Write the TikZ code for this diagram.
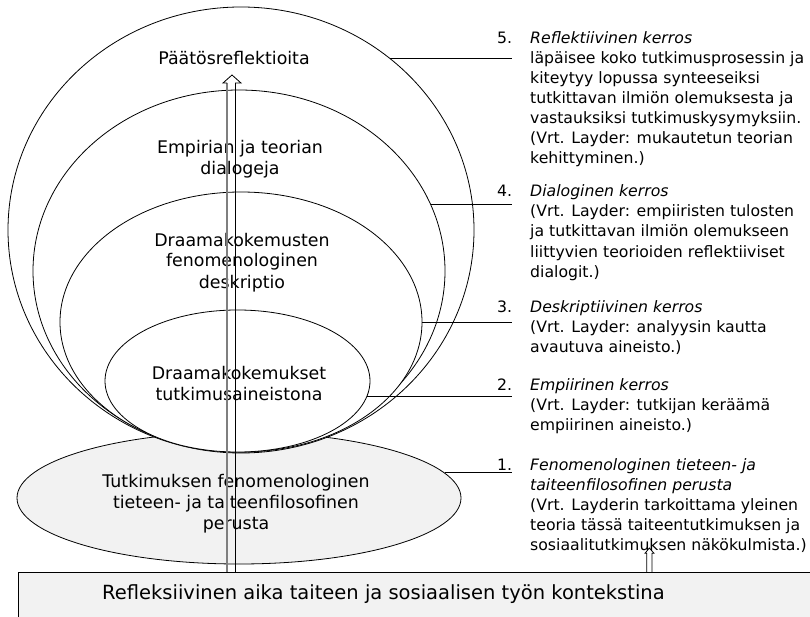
\documentclass[tikz,border=0pt]{standalone}
\usepackage{fontspec}
\setmainfont{DejaVu Sans}
\usetikzlibrary{shapes.geometric}
\definecolor{lgray}{HTML}{F2F2F2}
\definecolor{shaftgray}{HTML}{7F7F7F}
\begin{document}
\begin{tikzpicture}[x=1pt,y=-1pt,
  layer/.style={ellipse,draw,fill=white,line width=0.8pt,inner sep=0},
  baselayer/.style={ellipse,draw,fill=lgray,line width=0.8pt,inner sep=0},
  etext/.style={align=center,inner sep=0,anchor=base,font=\fontsize{17.4}{21}\selectfont},
  ntext/.style={inner sep=0,anchor=base west,font=\fontsize{15.7}{20}\selectfont},
  rtext/.style={align=left,inner sep=0,anchor=base west,font=\fontsize{15.7}{20}\selectfont},
  leader/.style={line width=0.9pt},
  arrowline/.style={line width=0.8pt}]
\useasboundingbox (0,0) rectangle (810,617);
% layers
\node[baselayer,minimum width=444,minimum height=132] (e1) at (239,498) {};
\node[layer,minimum width=466,minimum height=446] (e5) at (241,230) {};
\node[layer,minimum width=412,minimum height=362] (e4) at (239,271) {};
\node[layer,minimum width=362,minimum height=260] (e3) at (241,322) {};
\node[layer,minimum width=265,minimum height=142] (e2) at (237.5,381) {};
\node[draw,fill=lgray,line width=0.8pt,minimum width=794,minimum height=50,anchor=north west,inner sep=0] (ctx) at (18,572) {};
% texts in layers (anchor = baseline of last line)
\node[etext] (t5) at (234,65) {Päätösreflektioita};
\node[etext] (t4) at (240,175) {Empirian ja teorian\\dialogeja};
\node[etext] (t3) at (242,288) {Draamakokemusten\\fenomenologinen\\deskriptio};
\node[etext] (t2) at (239,400) {Draamakokemukset\\tutkimusaineistona};
\node[etext] (t1) at (236,529) {Tutkimuksen fenomenologinen\\tieteen- ja taiteenfilosofinen\\perusta};
\node[inner sep=0,anchor=base west,font=\fontsize{19.5}{23}\selectfont] (tc) at (102,599) {Refleksiivinen aika taiteen ja sosiaalisen työn kontekstina};
% right column (anchor = baseline of last line)
\node[ntext] (n5) at (497,44) {5.};
\node[rtext] (d5) at (530,164) {\textit{Reflektiivinen kerros}\\läpäisee koko tutkimusprosessin ja\\kiteytyy lopussa synteeseiksi\\tutkittavan ilmiön olemuksesta ja\\vastauksiksi tutkimuskysymyksiin.\\(Vrt. Layder: mukautetun teorian\\kehittyminen.)};
\node[ntext] (n4) at (497,197) {4.};
\node[rtext] (d4) at (530,277) {\textit{Dialoginen kerros}\\(Vrt. Layder: empiiristen tulosten\\ja tutkittavan ilmiön olemukseen\\liittyvien teorioiden reflektiiviset\\dialogit.)};
\node[ntext] (n3) at (497,312) {3.};
\node[rtext] (d3) at (530,352) {\textit{Deskriptiivinen kerros}\\(Vrt. Layder: analyysin kautta\\avautuva aineisto.)};
\node[ntext] (n2) at (497,390) {2.};
\node[rtext] (d2) at (530,430) {\textit{Empiirinen kerros}\\(Vrt. Layder: tutkijan keräämä\\empiirinen aineisto.)};
\node[ntext] (n1) at (497,470) {1.};
\node[rtext] (d1) at (530,550) {\textit{Fenomenologinen tieteen- ja}\\\textit{taiteenfilosofinen perusta}\\(Vrt. Layderin tarkoittama yleinen\\teoria tässä taiteentutkimuksen ja\\sosiaalitutkimuksen näkökulmista.)};
% leader lines
\draw[leader] (e5.49.65) -- (e5.49.65 -| n5.east);
\draw[leader] (e4.19.33) -- (e4.19.33 -| n4.east);
\draw[leader] (e3.0.6) -- (e3.0.6 -| n3.east);
\draw[leader] (e2.-7.07) -- (e2.-7.07 -| n2.east);
\draw[leader] (e1.7.32) -- (e1.7.32 -| n1.east);
% big hollow arrow
\coordinate (aL0) at (227,572);
\coordinate (aL1) at (227,83);
\coordinate (aR0) at (235,572);
\coordinate (aR1) at (235,83);
\coordinate (aHL) at (223,83);
\coordinate (aHR) at (241,83);
\coordinate (aTip) at (232,75);
\draw[shaftgray,line width=1.4pt] (aL0) -- (aL1);
\draw[arrowline] (aR0) -- (aR1);
\draw[arrowline,line join=miter] (aL1) -- (aHL) -- (aTip) -- (aHR) -- (aR1);
% small hollow arrow
\coordinate (bL0) at (646.7,572);
\coordinate (bL1) at (646.7,553.3);
\coordinate (bHL) at (645,553.3);
\coordinate (bTip) at (649.3,548);
\coordinate (bHR) at (654,553.3);
\coordinate (bR1) at (652,553.3);
\coordinate (bR0) at (652,572);
\draw[arrowline] (bL0) -- (bL1) -- (bHL) -- (bTip) -- (bHR) -- (bR1) -- (bR0);
\end{tikzpicture}
\end{document}
